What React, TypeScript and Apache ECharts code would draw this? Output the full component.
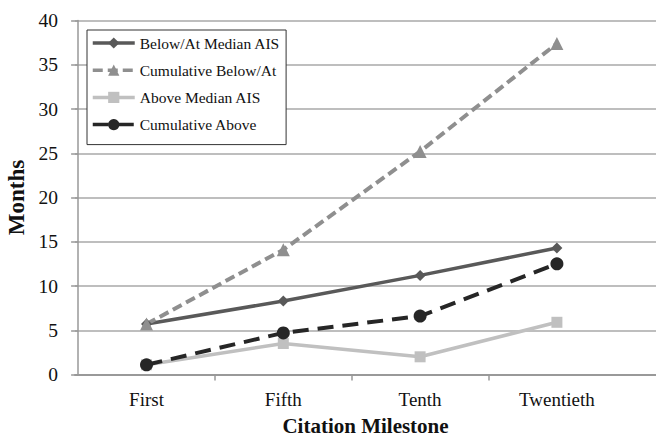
import React, { useEffect, useRef } from "react";
import * as echarts from "echarts";

const categories = ["First", "Fifth", "Tenth", "Twentieth"];
const belowAtMedian = [5.7, 8.3, 11.2, 14.3];
const cumulativeBelowAt = [5.7, 14.1, 25.2, 37.4];
const aboveMedian = [1.1, 3.5, 2.0, 5.9];
const cumulativeAbove = [1.1, 4.7, 6.6, 12.5];
const yTicks = [0, 5, 10, 15, 20, 25, 30, 35, 40];

const FONT = "'Liberation Serif', 'Times New Roman', serif";

const toPoints = (vals: number[]) => vals.map((v, i) => [i + 0.5, v]);

export default function App() {
  const ref = useRef<HTMLDivElement>(null);
  useEffect(() => {
    if (!ref.current) return;
    const chart = echarts.init(ref.current, undefined, { renderer: "svg" });
    const step = 136.8;
    const xMin = -0.0227;
    const xMax = (656 - 75) / step + xMin;
    chart.setOption({
      animation: false,
      backgroundColor: "#ffffff",
      textStyle: { fontFamily: FONT },
      grid: { left: 75, right: 0, top: 20.5, bottom: 63.5, containLabel: false, outerBoundsMode: "none" },
      legend: {
        orient: "vertical",
        left: 87,
        top: 30,
        padding: [5, 6, 12, 4],
        itemWidth: 42,
        itemHeight: 14,
        itemGap: 11.2,
        borderColor: "#333333",
        borderWidth: 1,
        backgroundColor: "#ffffff",
        lineStyle: { width: 3.5 },
        textStyle: { fontFamily: FONT, fontSize: 15.5, color: "#111111", lineHeight: 16 },
        data: ["Below/At Median AIS", "Cumulative Below/At", "Above Median AIS", "Cumulative Above"],
      },
      xAxis: {
        type: "value",
        min: xMin,
        max: xMax,
        name: "Citation Milestone",
        nameLocation: "middle",
        nameGap: 40,
        nameTextStyle: { fontFamily: FONT, fontSize: 21, lineHeight: 22, fontWeight: "bold", color: "#111111" },
        splitLine: { show: false },
        axisLine: { show: true, onZero: false, lineStyle: { color: "#999999", width: 2 } },
        axisTick: { show: true, customValues: [1, 2, 3], length: 6, lineStyle: { color: "#999999", width: 1.5 } },
        axisLabel: {
          customValues: [0.5, 1.5, 2.5, 3.5],
          formatter: (v: number) => categories[Math.round(v - 0.5)] ?? "",
          fontFamily: FONT,
          fontSize: 19,
          color: "#111111",
          margin: 15,
        },
      },
      yAxis: {
        type: "value",
        min: 0,
        max: 40,
        interval: 5,
        name: "Months",
        nameLocation: "middle",
        nameGap: 46,
        nameRotate: 90,
        nameTextStyle: { fontFamily: FONT, fontSize: 23, fontWeight: "bold", color: "#111111" },
        axisLine: { show: true, lineStyle: { color: "#999999", width: 1.5 } },
        axisTick: { show: true, length: 7, lineStyle: { color: "#999999", width: 1.5 } },
        splitLine: { show: true, lineStyle: { color: "#a8a8a8", width: 1.5 } },
        axisLabel: {
          fontFamily: FONT,
          fontSize: 19.5,
          color: "#111111",
          margin: 17,
          formatter: (v: number) => (yTicks.includes(v) ? String(v) : ""),
        },
      },
      series: [
        {
          name: "Below/At Median AIS",
          type: "line",
          data: toPoints(belowAtMedian),
          symbol: "diamond",
          symbolSize: 11,
          lineStyle: { color: "#595959", width: 3.5 },
          itemStyle: { color: "#595959" },
        },
        {
          name: "Cumulative Below/At",
          type: "line",
          data: toPoints(cumulativeBelowAt),
          symbol: "triangle",
          symbolSize: 13,
          lineStyle: { color: "#8f8f8f", width: 4, type: [10, 5] },
          itemStyle: { color: "#8f8f8f" },
        },
        {
          name: "Above Median AIS",
          type: "line",
          data: toPoints(aboveMedian),
          symbol: "rect",
          symbolSize: 11,
          lineStyle: { color: "#c0c0c0", width: 3.5 },
          itemStyle: { color: "#c0c0c0" },
        },
        {
          name: "Cumulative Above",
          type: "line",
          data: toPoints(cumulativeAbove),
          symbol: "circle",
          symbolSize: 13,
          lineStyle: { color: "#262626", width: 4, type: [16, 9] },
          itemStyle: { color: "#262626" },
        },
      ],
    });
    return () => chart.dispose();
  }, []);
  return <div ref={ref} style={{ width: 656, height: 438, position: "absolute", left: 0, top: 0 }} />;
}
